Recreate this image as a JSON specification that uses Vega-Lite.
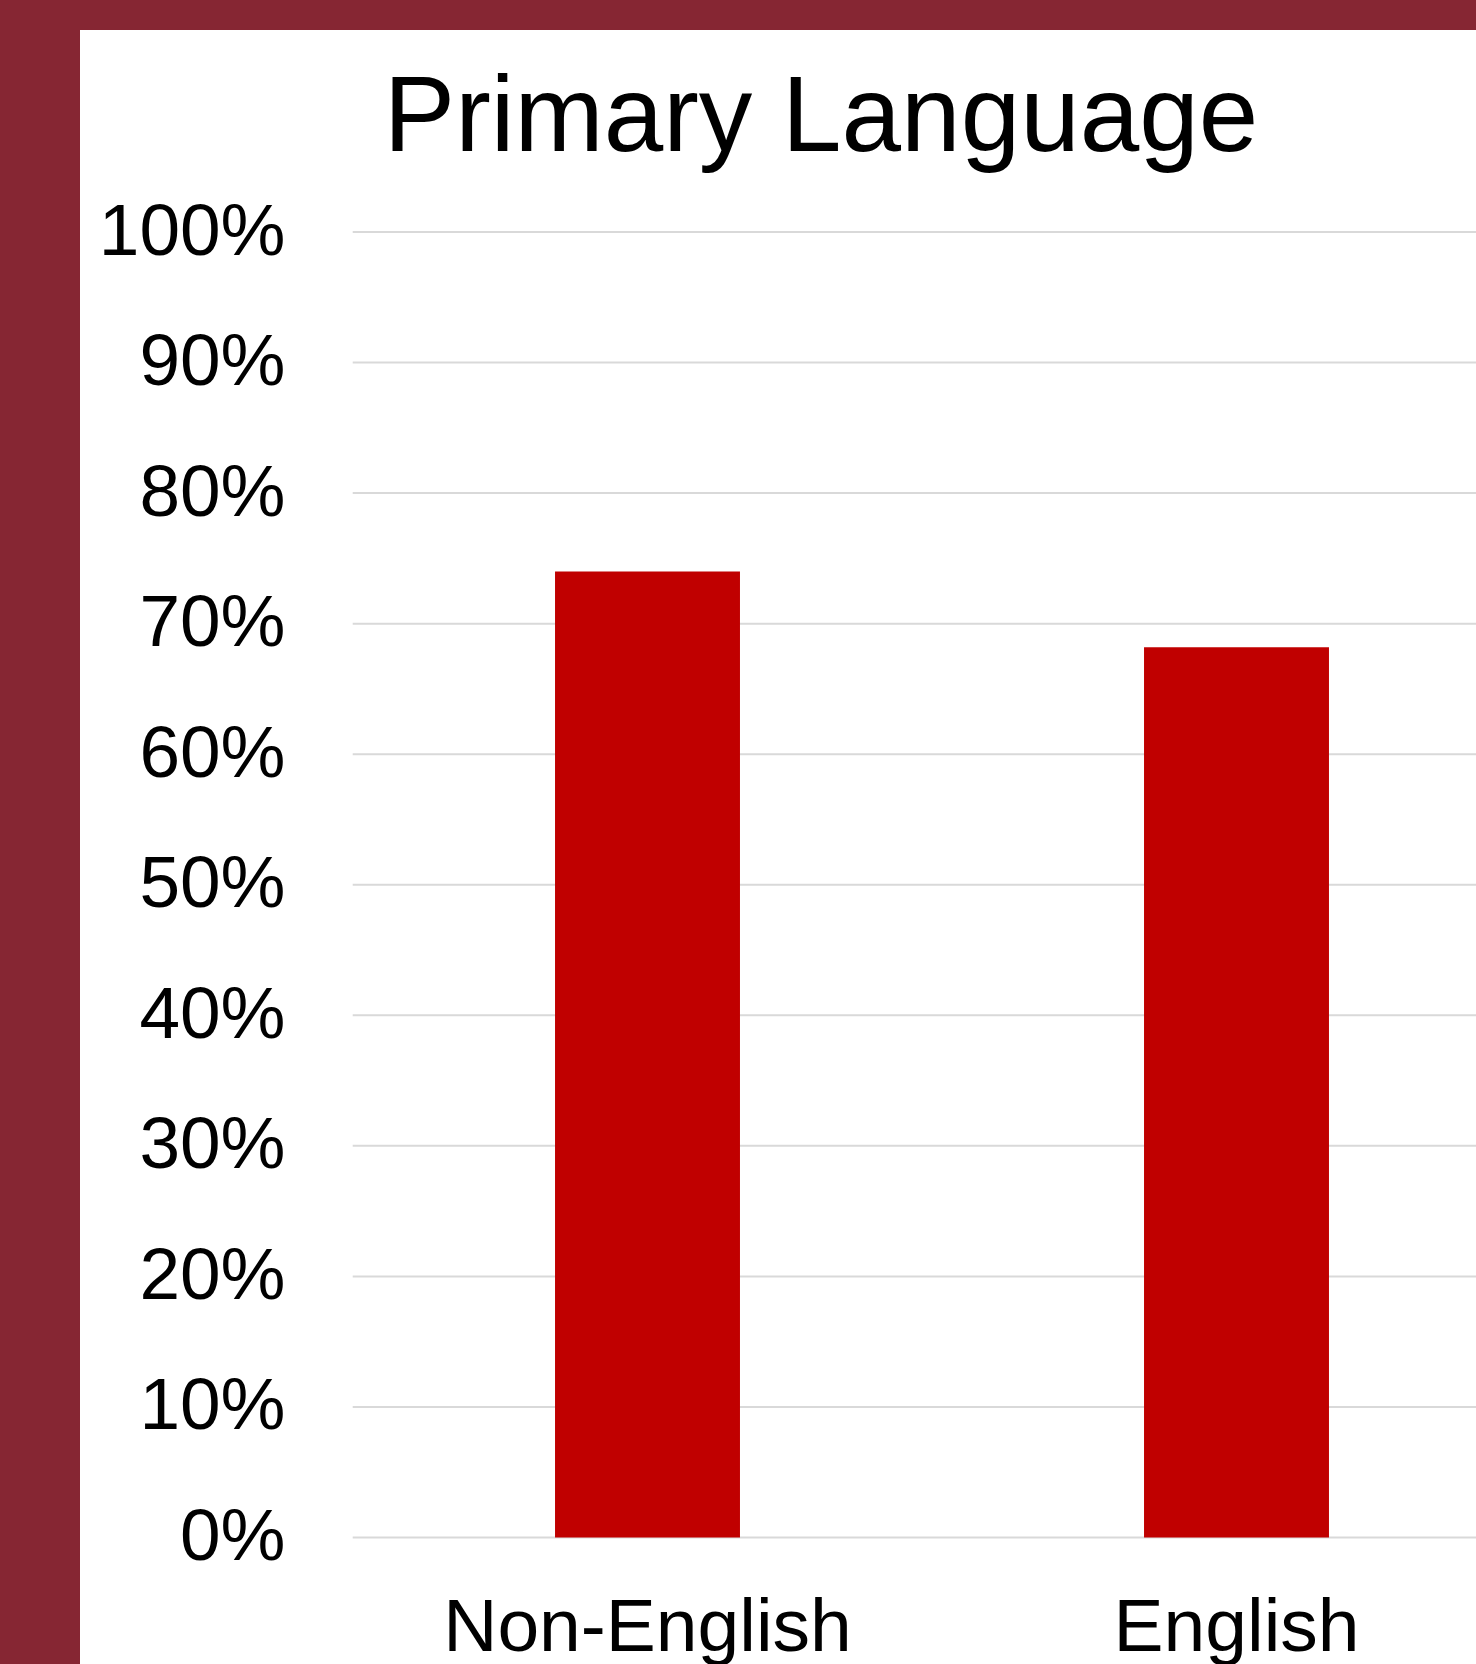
{
  "$schema": "https://vega.github.io/schema/vega-lite/v6.json",
  "width": 1396,
  "height": 1634,
  "autosize": {"type": "none"},
  "padding": {"left": 80, "top": 30, "right": 0, "bottom": 0},
  "background": "#862633",
  "config": {"font": "Liberation Sans", "view": {"fill": "white", "stroke": null}},
  "title": {"text": "Primary Language", "fontSize": 107, "fontWeight": "normal", "color": "black", "anchor": "middle", "frame": "group", "offset": 0, "baseline": "alphabetic", "dy": 228, "dx": 43, "limit": 0},
  "datasets": {
    "bars": [
      {"language": "Non-English", "value": 0.74},
      {"language": "English", "value": 0.682}
    ],
    "grid": [
      {"value": 0}, {"value": 0.1}, {"value": 0.2}, {"value": 0.3}, {"value": 0.4}, {"value": 0.5},
      {"value": 0.6}, {"value": 0.7}, {"value": 0.8}, {"value": 0.9}, {"value": 1}
    ]
  },
  "layer": [
    {
      "data": {"name": "grid"},
      "mark": {"type": "rule", "color": "#d9d9d9", "strokeWidth": 2},
      "encoding": {
        "x": {"datum": 0, "type": "quantitative", "scale": {"domain": [0, 1], "range": [272.7, 1396], "nice": false, "zero": false}, "axis": null},
        "x2": {"datum": 1},
        "y": {"field": "value", "type": "quantitative",
          "scale": {"domain": [0, 1], "range": [1507.5, 202], "nice": false},
          "axis": {"offset": -205, "ticks": false, "domain": false, "grid": false, "labelPadding": 0, "labelFontSize": 73, "labelColor": "black", "labelFont": "Liberation Sans", "labelLimit": 0, "title": null, "labelBaseline": "middle", "labelFlush": false, "labelOverlap": false, "format": ".0%", "values": [0, 0.1, 0.2, 0.3, 0.4, 0.5, 0.6, 0.7, 0.8, 0.9, 1]}}
      }
    },
    {
      "data": {"name": "bars"},
      "mark": {"type": "bar", "color": "#c00000"},
      "encoding": {
        "x": {"field": "language", "type": "nominal", "sort": ["Non-English", "English"],
          "scale": {"range": [273, 1451], "paddingInner": 0.686, "paddingOuter": 0.343},
          "axis": {"orient": "bottom", "offset": -14, "ticks": false, "domain": false, "grid": false, "labelPadding": 0, "labelBaseline": "alphabetic", "labelFontSize": 75, "labelAngle": 0, "labelColor": "black", "labelFont": "Liberation Sans", "labelLimit": 0, "title": null}},
        "y": {"field": "value", "type": "quantitative",
          "scale": {"domain": [0, 1], "range": [1507.5, 202], "nice": false},
          "axis": {"offset": -205, "ticks": false, "domain": false, "grid": false, "labelPadding": 0, "labelFontSize": 73, "labelColor": "black", "labelFont": "Liberation Sans", "labelLimit": 0, "title": null, "labelBaseline": "middle", "labelFlush": false, "labelOverlap": false, "format": ".0%", "values": [0, 0.1, 0.2, 0.3, 0.4, 0.5, 0.6, 0.7, 0.8, 0.9, 1]}}
      }
    }
  ],
  "resolve": {"scale": {"x": "independent"}}
}
